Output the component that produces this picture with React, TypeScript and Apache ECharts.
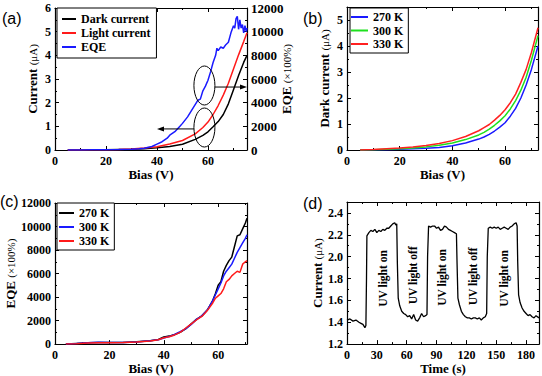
import React, { useEffect, useRef } from 'react';
import * as echarts from 'echarts';

const SERIF = '"Liberation Serif","Times New Roman",serif';
const SANS = '"Liberation Sans",Arial,sans-serif';

// ---------- (a) ----------
const biasA = [5, 10, 15, 20, 25, 30, 35, 40, 45, 50, 55, 58, 60, 62, 64, 66, 68, 70, 72, 74, 75.3];
const darkA = [0, 0.002, 0.005, 0.01, 0.02, 0.03, 0.05, 0.09, 0.15, 0.24, 0.45, 0.62, 0.77, 0.98, 1.2, 1.5, 1.95, 2.55, 3.15, 3.7, 4.0];
const lightA = [0, 0.003, 0.006, 0.01, 0.02, 0.04, 0.08, 0.14, 0.25, 0.4, 0.68, 0.95, 1.18, 1.5, 1.88, 2.32, 2.82, 3.42, 4.02, 4.58, 4.95];
const biasEqeA = [5, 10, 15, 20, 25, 30, 33, 35, 38, 40, 42, 44, 45, 47, 49, 50, 52, 54, 56, 57, 58, 59, 60, 61, 62, 63, 63.5, 64, 65, 66, 67, 67.5, 68, 69, 70, 70.5, 71, 71.5, 72, 72.5, 73, 73.5, 74, 74.5, 75, 75.3];
const eqeA = [0, 10, 20, 30, 40, 60, 100, 150, 300, 500, 700, 1000, 1250, 1550, 2000, 2250, 2800, 3500, 4200, 4300, 5000, 5400, 5900, 6600, 7400, 8000, 8600, 8400, 8700, 8600, 8900, 9000, 9100, 9900, 10500, 10300, 11100, 11300, 10200, 11000, 10300, 10600, 9900, 10500, 10000, 10300];
const legendA = ['Dark current', 'Light current', 'EQE'];
// annotation anchors (x, EQE value) for (a)
const ellipseCentersA = [[58.6, 5450], [58.6, 1900]];
const arrowRightA = [[62.75, 5320], [75.3, 5320]];
const arrowLeftA = [[54.5, 0.89], [40, 0.89]];

// ---------- (b) ----------
const biasB = [5, 10, 15, 20, 25, 30, 35, 40, 45, 50, 52, 54, 56, 58, 60, 62, 64, 66, 68, 70, 72.5];
const dark270 = [0, 0.005, 0.01, 0.03, 0.05, 0.07, 0.1, 0.16, 0.27, 0.42, 0.5, 0.6, 0.73, 0.88, 1.05, 1.3, 1.6, 2.0, 2.5, 3.1, 4.0];
const dark300 = [0, 0.01, 0.03, 0.05, 0.08, 0.12, 0.18, 0.27, 0.4, 0.58, 0.68, 0.8, 0.95, 1.12, 1.32, 1.58, 1.9, 2.3, 2.8, 3.45, 4.4];
const dark330 = [0, 0.02, 0.05, 0.08, 0.12, 0.17, 0.25, 0.36, 0.52, 0.74, 0.86, 0.98, 1.15, 1.33, 1.55, 1.82, 2.15, 2.6, 3.1, 3.75, 4.7];
const tempLabels = ['270 K', '300 K', '330 K'];

// ---------- (c) ----------
const biasC = [4, 8, 12, 16, 20, 25, 30, 35, 38, 40, 42, 44, 46, 48, 50, 52, 54, 56, 58, 59, 60, 61, 62, 63, 64, 65, 66, 67, 68, 69, 70, 70.6];
const eqe270 = [0, 60, 110, 140, 130, 140, 190, 290, 400, 600, 680, 820, 1000, 1300, 1700, 2100, 2400, 2900, 3700, 4300, 5000, 5300, 6200, 6700, 7100, 7400, 8300, 9200, 9300, 9800, 10300, 10700];
const eqe300 = [0, 50, 120, 150, 140, 140, 180, 280, 360, 520, 640, 820, 1050, 1300, 1650, 2100, 2400, 2900, 3700, 4200, 4700, 5200, 5800, 6200, 6500, 6800, 7300, 7800, 8200, 8600, 9000, 9300];
const eqe330 = [0, 40, 90, 120, 110, 130, 170, 260, 370, 540, 620, 780, 1000, 1350, 1700, 2050, 2350, 2850, 3500, 3900, 4100, 4300, 4700, 5300, 5500, 5800, 6000, 6200, 6100, 6800, 7000, 7100];

// ---------- (d) ----------
const timeD = [0, 3, 6, 9, 12, 14, 16, 18, 19, 19.6, 20, 22, 24, 26, 28, 30, 32, 34, 36, 38, 40, 42, 44, 46, 48, 49, 50, 50.6, 51.5, 53, 55, 57, 59, 61, 63, 65, 67, 69, 71, 73, 75, 77, 79, 80.4, 81, 82, 84, 86, 88, 90, 92, 94, 96, 98, 100, 102, 104, 106, 108, 110, 110.6, 111.5, 113, 115, 117, 119, 121, 123, 125, 127, 129, 131, 133, 135, 137, 139, 140.4, 141, 142, 144, 146, 148, 150, 152, 154, 156, 158, 160, 162, 164, 166, 168, 170, 171, 171.6, 172.5, 174, 176, 178, 180, 182, 184, 186, 188, 190, 193];
const currentD = [1.42, 1.43, 1.41, 1.42, 1.40, 1.39, 1.38, 1.35, 1.37, 1.8, 2.19, 2.22, 2.24, 2.23, 2.25, 2.22, 2.24, 2.23, 2.25, 2.24, 2.26, 2.26, 2.28, 2.30, 2.31, 2.29, 2.30, 1.95, 1.62, 1.55, 1.50, 1.48, 1.47, 1.45, 1.46, 1.43, 1.47, 1.42, 1.41, 1.44, 1.48, 1.45, 1.46, 1.47, 2.0, 2.28, 2.27, 2.28, 2.28, 2.26, 2.27, 2.24, 2.25, 2.28, 2.27, 2.25, 2.24, 2.23, 2.22, 2.21, 1.95, 1.62, 1.56, 1.50, 1.47, 1.45, 1.44, 1.44, 1.43, 1.44, 1.44, 1.43, 1.44, 1.42, 1.44, 1.45, 1.48, 2.0, 2.26, 2.27, 2.26, 2.27, 2.26, 2.27, 2.25, 2.26, 2.27, 2.26, 2.25, 2.27, 2.28, 2.30, 2.31, 2.28, 1.95, 1.65, 1.58, 1.53, 1.50, 1.48, 1.46, 1.47, 1.45, 1.44, 1.46, 1.44];
const uvTexts = ['UV light on', 'UV light off', 'UV light on', 'UV light off', 'UV light on'];
const uvTimes = [36, 66, 95, 126.5, 158];
const uvLevels = [1.8, 1.83, 1.81, 1.82, 1.8];

const zip = (xs: number[], ys: number[]) => xs.map((x, i) => [x, ys[i]]);

const tickStyle = { show: true, inside: true, length: 4, lineStyle: { color: '#000', width: 1 } };
const minorTick = { show: true, splitNumber: 2, length: 2, lineStyle: { color: '#000', width: 1 } };
const axisLine = { show: true, onZero: false, lineStyle: { color: '#000', width: 1.2 } };
const plain = (v: number) => String(Math.round(v * 1000) / 1000);
const labelStyle = { color: '#000', fontFamily: SERIF, fontWeight: 'bold', fontSize: 12, formatter: plain };
const nameRich = {
  b: { fontFamily: SERIF, fontWeight: 'bold', fontSize: 13, color: '#000' },
  n: { fontFamily: SERIF, fontWeight: 'normal', fontSize: 11, color: '#000' },
};

const aligned = (max: number, interval: number) => Math.abs(max / interval - Math.round(max / interval)) < 1e-6;

function xAxes(grid: number, min: number, max: number, interval: number, name: string, nameGap: number) {
  return [
    {
      type: 'value', gridIndex: grid, min, max, interval, position: 'bottom',
      axisLine, axisTick: tickStyle, minorTick, splitLine: { show: false },
      axisLabel: { ...labelStyle, margin: 5, showMaxLabel: aligned(max, interval) },
      name, nameLocation: 'middle', nameGap,
      nameTextStyle: { fontFamily: SERIF, fontWeight: 'bold', fontSize: 13, color: '#000' },
    },
    {
      type: 'value', gridIndex: grid, min, max, interval, position: 'top',
      axisLine, axisTick: tickStyle, minorTick, splitLine: { show: false }, axisLabel: { show: false },
    },
  ];
}

function yAxis(grid: number, min: number, max: number, interval: number, name: string, nameGap: number, formatter?: any) {
  return {
    type: 'value', gridIndex: grid, min, max, interval, position: 'left',
    axisLine, axisTick: tickStyle, minorTick, splitLine: { show: false },
    axisLabel: { ...labelStyle, margin: 4, showMaxLabel: aligned(max, interval), formatter: formatter || plain },
    name, nameLocation: 'middle', nameGap,
    nameTextStyle: { rich: nameRich },
  };
}

function yMirror(grid: number, min: number, max: number, interval: number) {
  return {
    type: 'value', gridIndex: grid, min, max, interval, position: 'right',
    axisLine, axisTick: tickStyle, minorTick, splitLine: { show: false }, axisLabel: { show: false },
  };
}

function line(name: string, data: number[][], color: string, xi: number, yi: number, width = 1.5) {
  return {
    type: 'line', name, data, xAxisIndex: xi, yAxisIndex: yi, symbol: 'none', showSymbol: false,
    lineStyle: { color, width }, itemStyle: { color }, z: 3,
  };
}

const legendBase = {
  orient: 'vertical', borderColor: '#000', borderWidth: 1, backgroundColor: '#fff',
  selectedMode: false, icon: 'rect', itemHeight: 2,
  textStyle: { fontFamily: SERIF, fontWeight: 'bold', fontSize: 12, color: '#000', lineHeight: 12 },
};

const panelTitle = (text: string, left: number, top: number) => ({
  text, left, top, padding: 0,
  textStyle: { fontFamily: SANS, fontSize: 16, fontWeight: 'normal', color: '#000' },
});

export default function App() {
  const ref = useRef<HTMLDivElement>(null);
  useEffect(() => {
    document.body.style.margin = '0';
    const chart = echarts.init(ref.current!, undefined, { renderer: 'svg' });
    const legendMap: Record<string, string> = {
      b270: tempLabels[0], b300: tempLabels[1], b330: tempLabels[2],
      c270: tempLabels[0], c300: tempLabels[1], c330: tempLabels[2],
    };
    const option: any = {
      animation: false,
      backgroundColor: '#fff',
      title: [
        panelTitle('(a)', 2, 10),
        panelTitle('(b)', 303, 10),
        panelTitle('(c)', 0, 193),
        panelTitle('(d)', 303, 195),
      ],
      grid: [
        { left: 55, top: 8, width: 192, height: 142 },
        { left: 347, top: 7, width: 191, height: 143 },
        { left: 55, top: 203, width: 192, height: 143 },
        { left: 347, top: 202, width: 192, height: 143 },
      ],
      xAxis: [
        ...xAxes(0, 0, 75.3, 20, 'Bias (V)', 16),
        ...xAxes(1, 0, 72.5, 20, 'Bias (V)', 16),
        ...xAxes(2, 0, 70.6, 20, 'Bias (V)', 15),
        ...xAxes(3, 0, 193, 30, 'Time (s)', 17),
      ],
      yAxis: [
        yAxis(0, 0, 6, 1, '{b|Current }{n|(μA)}', 16),
        {
          type: 'value', gridIndex: 0, min: 0, max: 12000, interval: 2000, position: 'right',
          axisLine, axisTick: tickStyle, minorTick, splitLine: { show: false },
          axisLabel: { ...labelStyle, margin: 4, fontSize: 13 },
          name: '{b|EQE }{n|(×100%)}', nameLocation: 'middle', nameGap: 33, nameMoveOverlap: false,
          nameTextStyle: { rich: nameRich },
        },
        yAxis(1, 0, 5.5, 1, '{b|Dark current }{n|(μA)}', 16),
        yMirror(1, 0, 5.5, 1),
        yAxis(2, 0, 12000, 2000, '{b|EQE }{n|(×100%)}', 38),
        yMirror(2, 0, 12000, 2000),
        yAxis(3, 1.2, 2.5, 0.2, '{b|Current }{n|(μA)}', 21, (v: number) => v.toFixed(1)),
        yMirror(3, 1.2, 2.5, 0.2),
      ],
      legend: [
        { ...legendBase, left: 57, top: 8, itemWidth: 14, itemGap: 2, padding: [5, 6, 5, 5], data: legendA },
        {
          ...legendBase, left: 350, top: 8, itemWidth: 17, itemGap: 1.5, padding: [3, 5, 3, 1],
          data: ['b270', 'b300', 'b330'], formatter: (n: string) => legendMap[n],
        },
        {
          ...legendBase, left: 57, top: 203, itemWidth: 15, itemGap: 2, padding: [4, 5, 3, 2],
          data: ['c270', 'c300', 'c330'], formatter: (n: string) => legendMap[n],
        },
      ],
      series: [
        line('Dark current', zip(biasA, darkA), '#000000', 0, 0),
        line('Light current', zip(biasA, lightA), '#ff1a1a', 0, 0),
        line('EQE', zip(biasEqeA, eqeA), '#1a1aff', 0, 1),
        line('b270', zip(biasB, dark270), '#1a1aff', 2, 2),
        line('b300', zip(biasB, dark300), '#1ee01e', 2, 2),
        line('b330', zip(biasB, dark330), '#ff2020', 2, 2),
        line('c270', zip(biasC, eqe270), '#000000', 4, 4),
        line('c300', zip(biasC, eqe300), '#1a1aff', 4, 4),
        line('c330', zip(biasC, eqe330), '#ff1a1a', 4, 4),
        line('currentD', zip(timeD, currentD), '#000000', 6, 6, 1.3),
      ],
    };
    chart.setOption(option);

    // annotations
    const pa = (p: number[]) => chart.convertToPixel({ xAxisIndex: 0, yAxisIndex: 1 }, p) as number[];
    const pl = (p: number[]) => chart.convertToPixel({ xAxisIndex: 0, yAxisIndex: 0 }, p) as number[];
    const pd = (p: number[]) => chart.convertToPixel({ xAxisIndex: 6, yAxisIndex: 6 }, p) as number[];
    const graphics: any[] = [];
    ellipseCentersA.forEach((c) => {
      const [cx, cy] = pa(c);
      graphics.push({ type: 'ellipse', shape: { cx, cy, rx: 10.5, ry: 19.5 }, style: { fill: 'none', stroke: '#000', lineWidth: 1 }, z: 10 });
    });
    const arrow = (a: number[], b: number[]) => {
      const dir = Math.sign(b[0] - a[0]);
      graphics.push({ type: 'line', shape: { x1: a[0], y1: a[1], x2: b[0] - dir * 5, y2: b[1] }, style: { stroke: '#000', lineWidth: 1 }, z: 10 });
      graphics.push({
        type: 'polygon',
        shape: { points: [[b[0], b[1]], [b[0] - dir * 7, b[1] - 2.5], [b[0] - dir * 7, b[1] + 2.5]] },
        style: { fill: '#000' }, z: 10,
      });
    };
    arrow(pa(arrowRightA[0]), pa(arrowRightA[1]));
    arrow(pl(arrowLeftA[0]), pl(arrowLeftA[1]));
    uvTexts.forEach((t, i) => {
      const [x, y] = pd([uvTimes[i], uvLevels[i]]);
      graphics.push({
        type: 'text', x, y, rotation: Math.PI / 2, z: 10,
        style: { text: t, fontFamily: SERIF, fontWeight: 'bold', fontSize: 11.5, fill: '#000', align: 'center', verticalAlign: 'middle' },
      });
    });
    chart.setOption({ graphic: graphics });
    return () => chart.dispose();
  }, []);
  return <div ref={ref} style={{ position: 'absolute', left: 0, top: 0, width: 542, height: 376 }} />;
}
